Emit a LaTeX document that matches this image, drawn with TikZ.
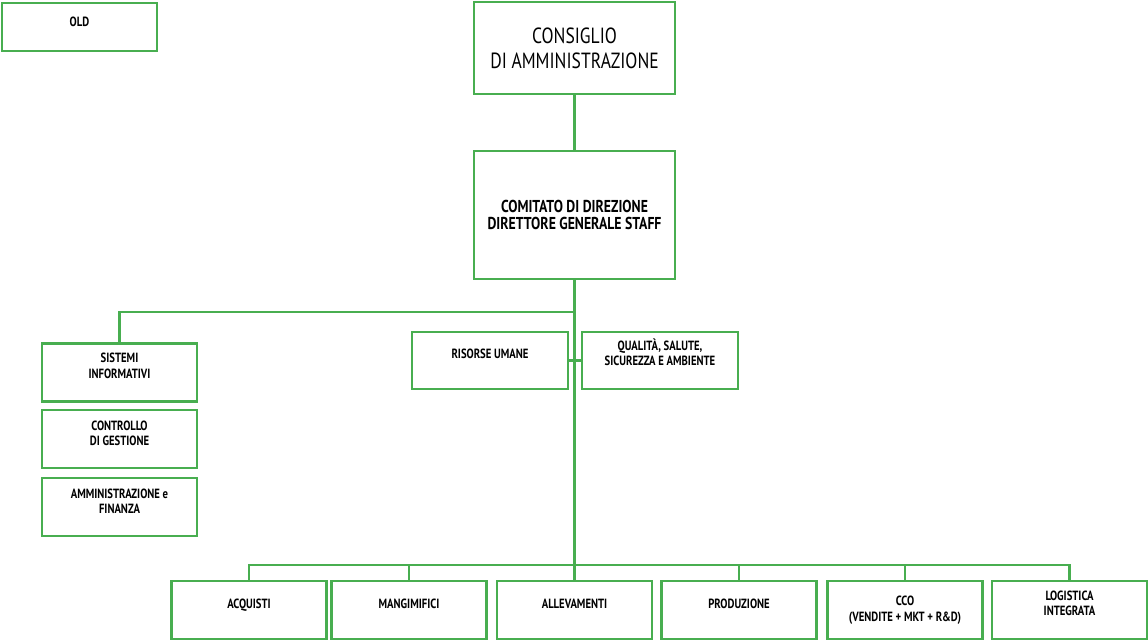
\documentclass[tikz,border=0pt]{standalone}
\usepackage{fontspec}
\usepackage{tikz}
\usetikzlibrary{positioning}
\newfontfamily\orgfont{PT Sans}[FakeStretch=0.8]
\definecolor{orggreen}{RGB}{72,174,80}

\begin{document}
\begin{tikzpicture}[x=0.02cm,y=-0.02cm,
    box/.style={draw=orggreen,line width=1.6pt,minimum width=3.1cm,
                minimum height=1.16cm,inner sep=0pt},
    lbl/.style={anchor=north,inner sep=0pt,align=center,
                font=\orgfont\bfseries\fontsize{7.6}{8.6}\selectfont},
    conn/.style={draw=orggreen,line width=1.3pt}
]
\useasboundingbox (0,0) rectangle (1148,640);

% vertice
\node[box,minimum height=0.96cm,label={[lbl,yshift=-0.3cm]north:OLD}] (old) at (79.5,27) {};
\node[box,minimum width=4.02cm,minimum height=1.84cm,align=center,
      font=\orgfont\fontsize{12.5}{14.4}\selectfont] (cda) at (574.5,48)
      {CONSIGLIO\\DI AMMINISTRAZIONE};
\node[box,minimum width=4.02cm,minimum height=2.56cm,align=center,
      font=\orgfont\bfseries\fontsize{9.8}{9.8}\selectfont] (cdd) at (574.5,215)
      {COMITATO DI DIREZIONE\\DIRETTORE GENERALE STAFF};

% staff
\node[box,label={[lbl,yshift=-0.22cm]north:SISTEMI\\INFORMATIVI}] (si) at (119.5,372.5) {};
\node[box,label={[lbl,yshift=-0.24cm]north:CONTROLLO\\DI GESTIONE}] (cg) at (119.5,439) {};
\node[box,label={[lbl,yshift=-0.24cm]north:AMMINISTRAZIONE e\\FINANZA}] (af) at (119.5,507) {};
\node[box,minimum width=3.12cm,minimum height=1.14cm,
      label={[lbl,yshift=-0.37cm]north:RISORSE UMANE}] (ru) at (490,360.5) {};
\node[box,minimum width=3.12cm,minimum height=1.14cm,
      label={[lbl,yshift=-0.16cm]north:QUALITÀ, SALUTE,\\SICUREZZA E AMBIENTE}] (qsa) at (660,360.5) {};

% linee di business
\node[box,label={[lbl,yshift=-0.39cm]north:ACQUISTI}] (acq) at (249,610) {};
\node[box,label={[lbl,yshift=-0.39cm]north:MANGIMIFICI}] (man) at (409,610) {};
\node[box,label={[lbl,yshift=-0.39cm]north:ALLEVAMENTI}] (all) at (574.5,610) {};
\node[box,label={[lbl,yshift=-0.39cm]north:PRODUZIONE}] (pro) at (739,610) {};
\node[box,label={[lbl,yshift=-0.33cm]north:CCO\\(VENDITE + MKT + R\&D)}] (cco) at (905,610) {};
\node[box,label={[lbl,yshift=-0.22cm]north:LOGISTICA\\INTEGRATA}] (log) at (1069.5,610) {};

\coordinate (split) at (574.5,312);
\coordinate (bar) at (574.5,565);

\draw[conn] (cda.south) -- (cdd.north);
\draw[conn] (cdd.south) -- (bar);
\draw[conn] (split) -| (si.north);
\draw[conn] (ru) -- (qsa);
\foreach \n in {acq,man,all,pro,cco,log}
  \draw[conn] (bar) -| (\n.north);
\end{tikzpicture}
\end{document}
